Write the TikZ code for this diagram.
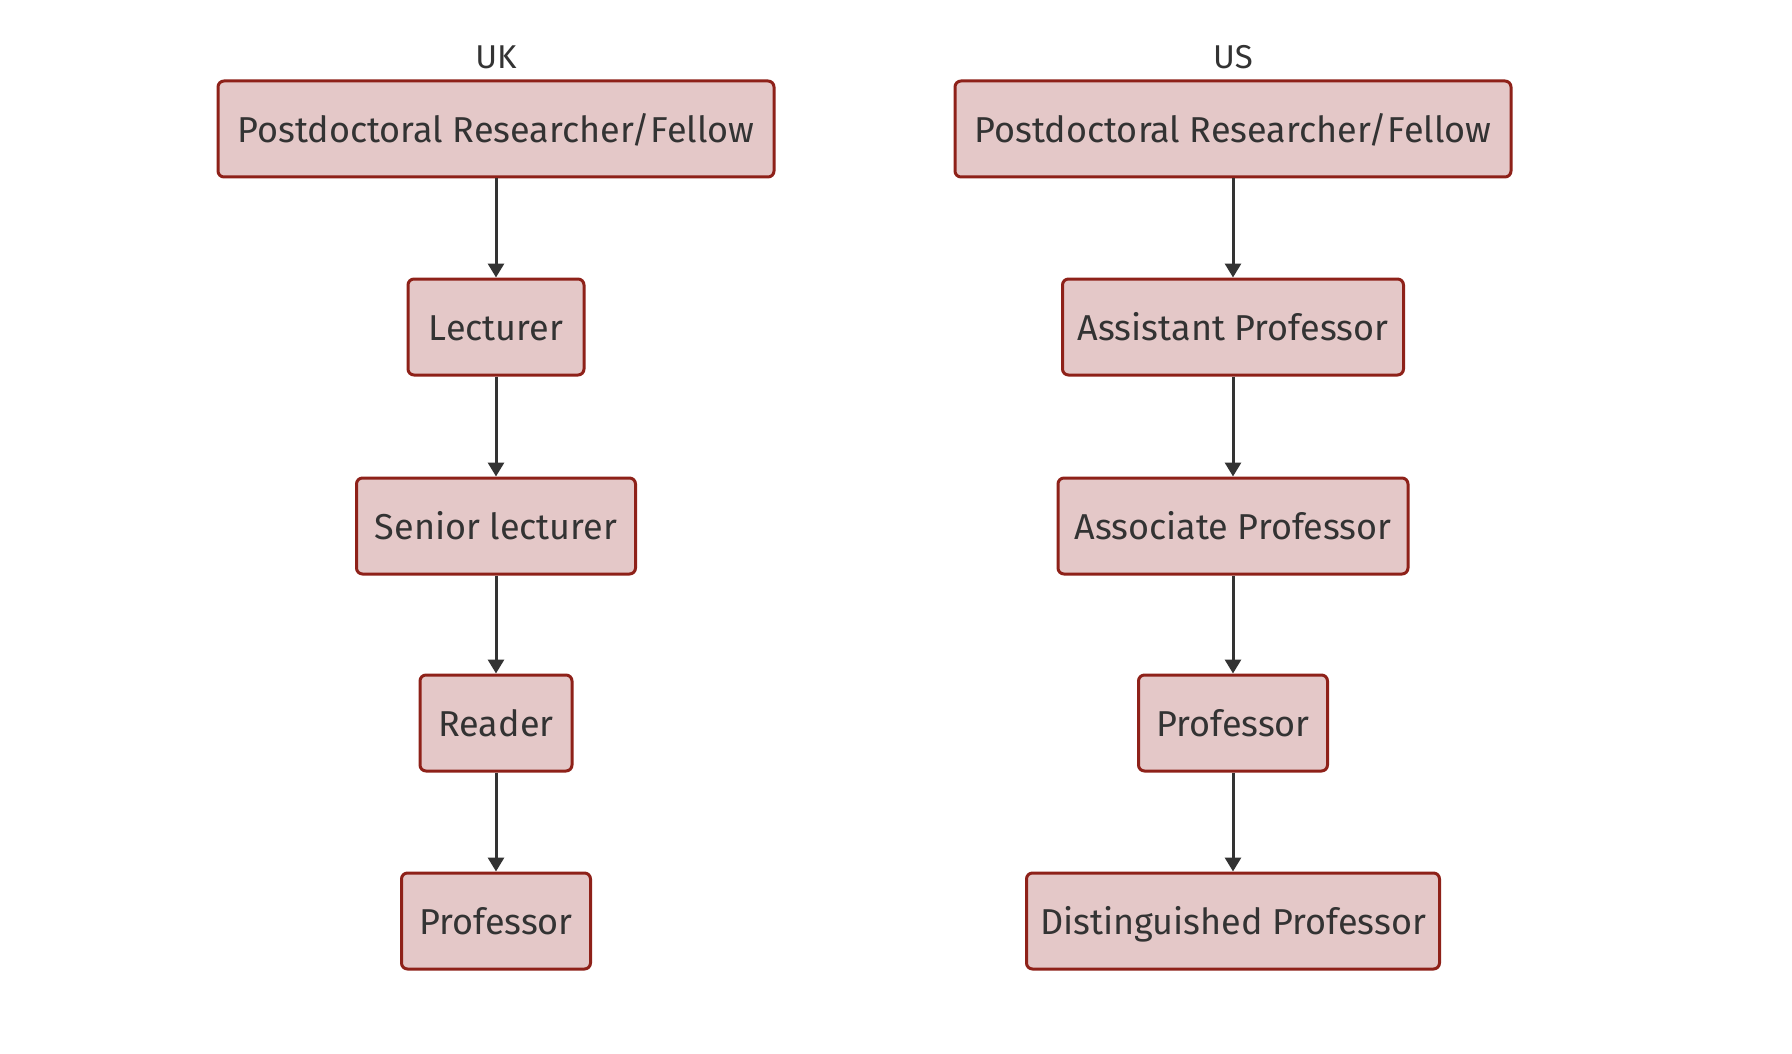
\documentclass[tikz,border=0pt]{standalone}
\usepackage{fontspec}
\setmainfont{Fira Sans}
\usetikzlibrary{arrows.meta}
\definecolor{boxfill}{HTML}{E4C8C8}
\definecolor{boxline}{HTML}{8E2119}
\definecolor{ink}{HTML}{333333}
\tikzset{
  rolebox/.style={draw=boxline, fill=boxfill, line width=3pt, rounded corners=6pt,
    minimum height=96pt, inner sep=0pt, text=ink, font=\fontsize{36}{40}\selectfont,
    text height=31pt, text depth=4pt},
  conn/.style={draw=ink, line width=3pt, -{Triangle[length=14pt,width=16pt]}},
  head/.style={text=ink, font=\fontsize{33}{37}\selectfont}
}
\begin{document}
\begin{tikzpicture}[x=1pt,y=-1pt]
\useasboundingbox (0,0) rectangle (1792,1054);
% UK
\node[head] (ukh) at (496,57) {UK};
\node[rolebox, minimum width=556pt] (u1) at (496,129) {Postdoctoral Researcher/Fellow};
\node[rolebox, minimum width=176pt] (u2) at (496,327) {Lecturer};
\node[rolebox, minimum width=279pt] (u3) at (496,526) {Senior lecturer};
\node[rolebox, minimum width=152pt] (u4) at (496,723) {Reader};
\node[rolebox, minimum width=189pt] (u5) at (496,921) {Professor};
% US
\node[head] (ush) at (1233,57) {US};
\node[rolebox, minimum width=556pt] (s1) at (1233,129) {Postdoctoral Researcher/Fellow};
\node[rolebox, minimum width=341pt] (s2) at (1233,327) {Assistant Professor};
\node[rolebox, minimum width=350pt] (s3) at (1233,526) {Associate Professor};
\node[rolebox, minimum width=189pt] (s4) at (1233,723) {Professor};
\node[rolebox, minimum width=413pt] (s5) at (1233,921) {Distinguished Professor};
\draw[conn] (u1) -- (u2);
\draw[conn] (u2) -- (u3);
\draw[conn] (u3) -- (u4);
\draw[conn] (u4) -- (u5);
\draw[conn] (s1) -- (s2);
\draw[conn] (s2) -- (s3);
\draw[conn] (s3) -- (s4);
\draw[conn] (s4) -- (s5);
\end{tikzpicture}
\end{document}
